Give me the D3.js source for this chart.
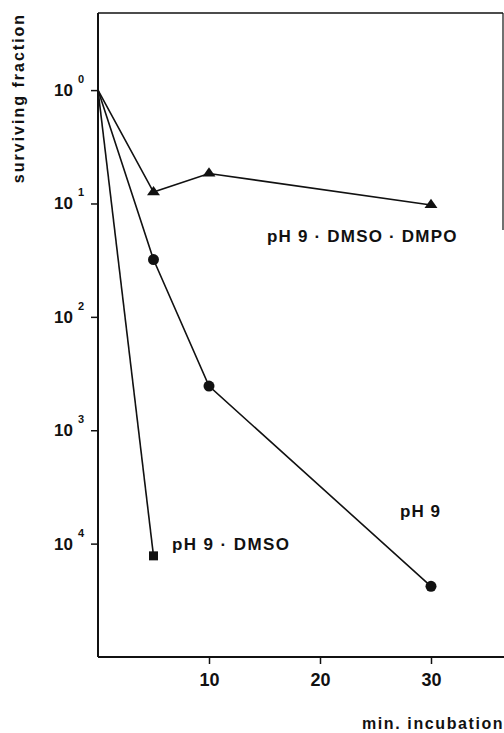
<!DOCTYPE html>
<meta charset="utf-8">
<script src="https://d3js.org/d3.v7.min.js"></script>
<style>
  body { margin: 0; background: #fff; }
  text { font-family: "Liberation Sans", Arial, sans-serif; font-weight: bold; fill: #111; }
</style>
<div id="my_dataviz"></div>
<script>

// data
var times = [0, 5, 10, 30];
var dmpoValues = [1, 0.126, 0.184, 0.097];   // pH 9 + DMSO + DMPO (triangles)
var ph9Values = [1, 0.032, 0.00245, 0.000042]; // pH 9 (circles)
var dmsoTimes = [0, 5];
var dmsoValues = [1, 0.000078];              // pH 9 + DMSO (squares)

var xTicks = [10, 20, 30];
var yTicks = [1, 0.1, 0.01, 0.001, 0.0001];
var yExponents = ["0", "1", "2", "3", "4"];

var svg = d3.select("#my_dataviz")
  .append("svg")
    .attr("width", 504)
    .attr("height", 733);

var x = d3.scaleLinear()
  .domain([0, 30])
  .range([98, 431]);

var y = d3.scaleLog()
  .domain([1e-5, Math.pow(10, 0.68)])
  .range([657, 13]);

var xMax = x.invert(504);

// frame: left + bottom axis, top line, partial right line
svg.append("g")
  .attr("stroke", "#111")
  .attr("stroke-width", 2)
  .attr("fill", "none")
  .call(function (g) {
    g.append("line").attr("x1", x(0)).attr("x2", x(0)).attr("y1", y.range()[1]).attr("y2", y.range()[0]);
    g.append("line").attr("x1", x(0)).attr("x2", x(xMax)).attr("y1", y.range()[0]).attr("y2", y.range()[0]);
    g.append("line").attr("x1", x(0)).attr("x2", 503).attr("y1", y.range()[1]).attr("y2", y.range()[1]).attr("stroke-width", 1.5);
    g.append("line").attr("x1", 503).attr("x2", 503).attr("y1", y.range()[1]).attr("y2", 230).attr("stroke-width", 1.2);
  });

// X axis ticks
var xAxis = svg.append("g")
  .attr("transform", "translate(0," + y.range()[0] + ")")
  .call(d3.axisBottom(x).tickValues(xTicks).tickSize(7).tickPadding(9));
xAxis.select(".domain").remove();
xAxis.selectAll("line").attr("stroke", "#111").attr("stroke-width", 1.5);
xAxis.selectAll("text")
  .attr("fill", "#111")
  .style("font-size", "18px")
  .style("font-family", "'Liberation Sans', Arial, sans-serif")
  .style("font-weight", "bold");

// Y axis ticks
var yAxis = svg.append("g")
  .attr("transform", "translate(" + x(0) + ",0)")
  .call(d3.axisLeft(y).tickValues(yTicks).tickSize(7).tickFormat(""));
yAxis.select(".domain").remove();
yAxis.selectAll("line").attr("stroke", "#111").attr("stroke-width", 1.5);

var yLab = svg.append("g");
yTicks.forEach(function (v, i) {
  yLab.append("text")
    .attr("x", 73)
    .attr("y", y(v) + 6)
    .attr("text-anchor", "end")
    .style("font-size", "17px")
    .text("10");
  yLab.append("text")
    .attr("x", 78)
    .attr("y", y(v) - 7)
    .style("font-size", "11px")
    .text(yExponents[i]);
});

// lines
var line = d3.line()
  .x(function (d) { return x(d[0]); })
  .y(function (d) { return y(d[1]); });

var series = [
  d3.zip(times, dmpoValues),
  d3.zip(times, ph9Values),
  d3.zip(dmsoTimes, dmsoValues)
];

svg.append("g")
  .selectAll("path")
  .data(series)
  .enter()
  .append("path")
    .attr("d", line)
    .attr("fill", "none")
    .attr("stroke", "#111")
    .attr("stroke-width", 1.6);

// markers (not at t = 0)
var tri = d3.symbol().type(d3.symbolTriangle).size(60);
svg.append("g")
  .selectAll("path")
  .data(d3.zip(times, dmpoValues).slice(1))
  .enter()
  .append("path")
    .attr("d", tri)
    .attr("transform", function (d) { return "translate(" + x(d[0]) + "," + y(d[1]) + ") scale(1.1,0.9)"; })
    .attr("fill", "#111");

svg.append("g")
  .selectAll("circle")
  .data(d3.zip(times, ph9Values).slice(1))
  .enter()
  .append("circle")
    .attr("cx", function (d) { return x(d[0]); })
    .attr("cy", function (d) { return y(d[1]); })
    .attr("r", 5.5)
    .attr("fill", "#111");

svg.append("g")
  .selectAll("rect")
  .data(d3.zip(dmsoTimes, dmsoValues).slice(1))
  .enter()
  .append("rect")
    .attr("x", function (d) { return x(d[0]) - 4.5; })
    .attr("y", function (d) { return y(d[1]) - 4.5; })
    .attr("width", 9)
    .attr("height", 9)
    .attr("fill", "#111");

// series labels
svg.append("text")
  .attr("x", 267).attr("y", 242)
  .style("font-size", "17px").style("letter-spacing", "1.2px")
  .text("pH 9 \u00b7 DMSO \u00b7 DMPO");

svg.append("text")
  .attr("x", 400).attr("y", 517)
  .style("font-size", "17px").style("letter-spacing", "1px")
  .text("pH 9");

svg.append("text")
  .attr("x", 172).attr("y", 550)
  .style("font-size", "17px").style("letter-spacing", "1.4px")
  .text("pH 9 \u00b7 DMSO");

// axis titles
svg.append("text")
  .attr("transform", "translate(24,98) rotate(-90)")
  .attr("text-anchor", "middle")
  .style("font-size", "16px").style("letter-spacing", "2px")
  .text("surviving fraction");

svg.append("text")
  .attr("x", 362).attr("y", 729)
  .style("font-size", "16px").style("letter-spacing", "1.6px")
  .text("min. incubation");

</script>
